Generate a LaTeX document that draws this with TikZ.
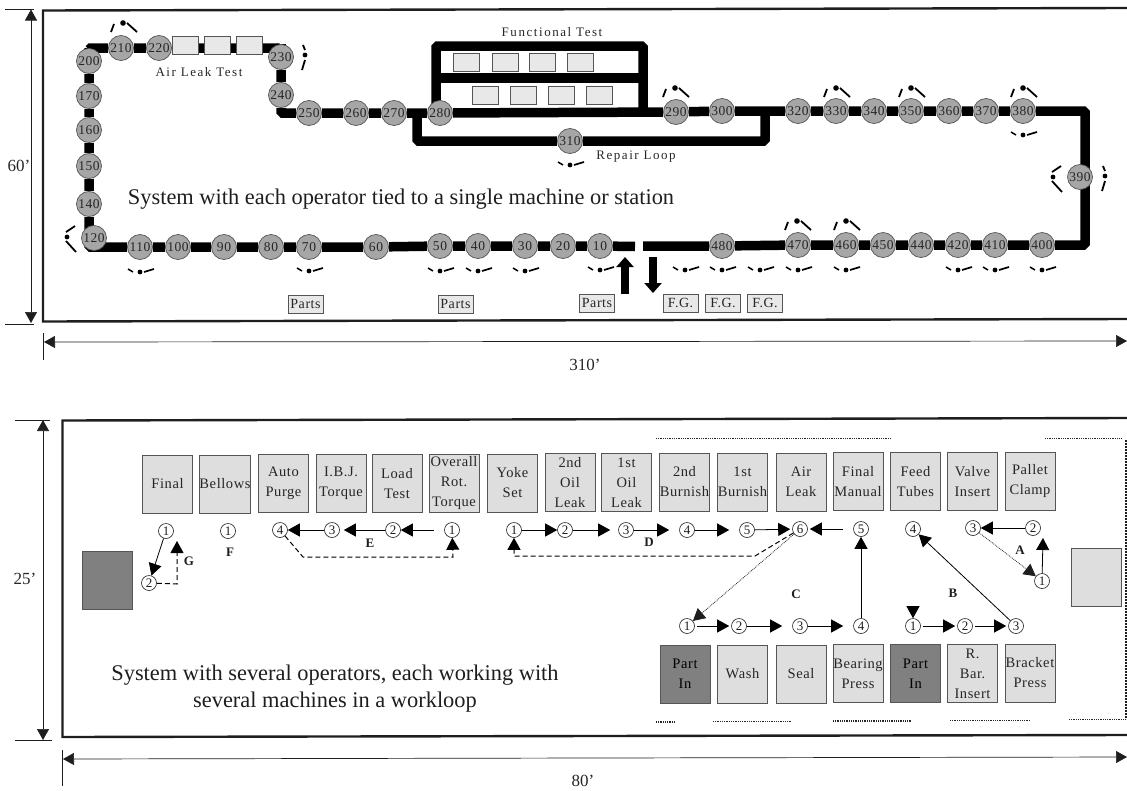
\documentclass[tikz,border=0pt]{standalone}
\usepackage{fontspec}
\usepackage{tikz}
\usetikzlibrary{arrows.meta,backgrounds}
\setmainfont{Liberation Serif}
\newfontfamily\boxfont[LetterSpace=4]{Liberation Serif}
\newfontfamily\wideboxfont[LetterSpace=12]{Liberation Serif}
\definecolor{Ink}{HTML}{1E1E1E}
\definecolor{TextGrey}{HTML}{262626}
\definecolor{Edge}{HTML}{555555}
\definecolor{Station}{HTML}{A6A6A6}
\definecolor{Machine}{HTML}{DEDEDE}
\definecolor{DarkMachine}{HTML}{808080}
\definecolor{PaleBox}{HTML}{E8E8E8}
\tikzset{
  frame/.style={line width=2.4pt,draw=Ink},
  belt/.style={line width=9.5pt,draw=black,rounded corners=1.5pt},
  station/.style={circle,draw=Edge,fill=Station,line width=0.7pt,minimum size=25pt,inner sep=0pt,text=TextGrey,font=\boxfont\fontsize{13.5}{14}\selectfont},
  slot/.style={rectangle,draw=Edge,fill=PaleBox,line width=0.8pt,minimum width=26pt,minimum height=18pt,inner sep=0pt},
  stock/.style={rectangle,draw=Edge,fill=PaleBox,line width=0.8pt,minimum width=35pt,minimum height=18pt,inner sep=0pt,text=TextGrey,font=\boxfont\fontsize{14}{14}\selectfont},
  machine/.style={rectangle,draw=Edge,fill=Machine,line width=0.9pt,minimum width=50pt,minimum height=58pt,inner sep=0pt,align=center,text=TextGrey,font=\boxfont\fontsize{14.5}{20}\selectfont},
  darkmachine/.style={machine,fill=DarkMachine,text=black},
  seq/.style={circle,draw=Ink,fill=white,line width=0.6pt,minimum size=15pt,inner sep=0pt,text=Ink,font=\fontsize{13}{14}\selectfont},
  caption/.style={inner sep=0pt,text=TextGrey,font=\wideboxfont\fontsize{13}{14}\selectfont},
  headline/.style={inner sep=0pt,align=center,text=Ink,font=\fontsize{22.4}{27}\selectfont},
  loopname/.style={inner sep=0pt,text=Ink,font=\fontsize{13}{14}\selectfont\bfseries},
  dimtext/.style={inner sep=0pt,text=TextGrey,font=\fontsize{17}{18}\selectfont},
  dim/.style={{Triangle[length=11pt,width=12pt]}-{Triangle[length=11pt,width=12pt]},line width=0.7pt,draw=Ink},
  tick/.style={line width=0.7pt,draw=Ink},
  bigarrow/.style={-{Triangle[length=10pt,width=17pt]},line width=8.5pt,draw=black},
  walk/.style={-{Triangle[length=12pt,width=13pt]},line width=0.8pt,draw=black},
  walkback/.style={walk,dashed,dash pattern=on 5pt off 3pt,line width=1pt},
  carry/.style={walk,densely dotted,draw=Ink},
  faint/.style={line width=0.8pt,densely dotted,draw=TextGrey},
  pics/opbelow/.style={code={
    \fill[black] (0,0) circle (2.4pt);
    \draw[line width=1.5pt] (-12,-3) -- (-7,0);
    \draw[line width=1.7pt] (4,0) -- (14,-3);
  }},
  pics/opabove/.style={code={
    \fill[black] (0,0) circle (2.8pt);
    \draw[line width=1.8pt] (-12,9) -- (-9,1);
    \draw[line width=1.8pt] (4,0) -- (14,9);
  }},
  pics/opleft/.style={code={
    \fill[black] (0,0) circle (2.4pt);
    \draw[line width=1.8pt] (8,-11) -- (-1,-5);
    \draw[line width=1.8pt] (-1,4) -- (9,15);
  }},
  pics/opright/.style={code={
    \fill[black] (0,0) circle (2.4pt);
    \draw[line width=1.8pt] (-2,-10) -- (0,-5);
    \draw[line width=1.8pt] (0,5) -- (-3,15);
  }}
}

\begin{document}
\begin{tikzpicture}[x=1pt,y=-1pt]
  \useasboundingbox (0,0) rectangle (1127,790);

  % upper system
  \draw[frame] (1127,8) -- (43,10.5) -- (43,321.5) -- (1127,319);

  \node[station] (s210) at (121,48) {210};
  \node[station] (s220) at (159,48) {220};
  \node[station] (s200) at (89,61) {200};
  \node[station] (s170) at (89,96) {170};
  \node[station] (s160) at (89,130) {160};
  \node[station] (s150) at (89,166) {150};
  \node[station] (s140) at (89,204) {140};
  \node[station] (s120) at (94,238) {120};
  \node[station] (s110) at (140,247) {110};
  \node[station] (s100) at (178,247) {100};
  \node[station] (s90) at (224,247) {90};
  \node[station] (s80) at (271,247) {80};
  \node[station] (s70) at (309,247) {70};
  \node[station] (s60) at (376,247) {60};
  \node[station] (s50) at (440,246) {50};
  \node[station] (s40) at (478,246) {40};
  \node[station] (s30) at (525,246) {30};
  \node[station] (s20) at (563,246) {20};
  \node[station] (s10) at (600,246) {10};
  \node[station] (s480) at (722,246) {480};
  \node[station] (s470) at (798,245) {470};
  \node[station] (s460) at (846,245) {460};
  \node[station] (s450) at (883,245) {450};
  \node[station] (s440) at (921,245) {440};
  \node[station] (s420) at (958,245) {420};
  \node[station] (s410) at (995,245) {410};
  \node[station] (s400) at (1042,245) {400};
  \node[station] (s390) at (1080,177) {390};
  \node[station] (s380) at (1023,111) {380};
  \node[station] (s370) at (986,111) {370};
  \node[station] (s360) at (949,111) {360};
  \node[station] (s350) at (911,111) {350};
  \node[station] (s340) at (874,111) {340};
  \node[station] (s330) at (836,111) {330};
  \node[station] (s320) at (798,111) {320};
  \node[station] (s300) at (722,111) {300};
  \node[station] (s290) at (676,112) {290};
  \node[station] (s310) at (570,141) {310};
  \node[station] (s280) at (440,113) {280};
  \node[station] (s270) at (394,113) {270};
  \node[station] (s260) at (356,113) {260};
  \node[station] (s250) at (309,113) {250};
  \node[station] (s240) at (281,95) {240};
  \node[station] (s230) at (281,57) {230};

  \node[slot] (leak1) at (185,45) {};
  \node[slot] (leak2) at (217.5,45) {};
  \node[slot] (leak3) at (249.5,45) {};
  \node[slot] (test1) at (466.5,62.5) {};
  \node[slot] (test2) at (505,62.5) {};
  \node[slot] (test3) at (542.5,62.5) {};
  \node[slot] (test4) at (580,62.5) {};
  \node[slot] (test5) at (485.5,95.5) {};
  \node[slot] (test6) at (523.5,95.5) {};
  \node[slot] (test7) at (561,95.5) {};
  \node[slot] (test8) at (599,95.5) {};

  \coordinate (beltIn) at (635,246.5);
  \coordinate (beltOut) at (643,246);
  \coordinate (rightLow) at (1085,245);
  \coordinate (rightHigh) at (1085,111);
  \coordinate (testBase) at (436,113);
  \coordinate (testMidL) at (436,78);
  \coordinate (testMidR) at (643,78);
  \coordinate (testTop) at (643,46);
  \coordinate (testEnd) at (643,112);
  \coordinate (repairL) at (417,113);
  \coordinate (repairR) at (765,111);

  \begin{scope}[on background layer]
    \draw[belt] (s230) |- (s220) -- (s210) -| (s200) -- (s170) -- (s160) -- (s150) -- (s140) |- (s110) -- (s100) -- (s90) -- (s80) -- (s70) -- (s60) -- (s50) -- (s40) -- (s30) -- (s20) -- (s10) -- (beltIn);
    \draw[belt] (beltOut) -- (s480) -- (s470) -- (s460) -- (s450) -- (s440) -- (s420) -- (s410) -- (s400) -- (rightLow) -- (rightHigh) -- (s380) -- (s370) -- (s360) -- (s350) -- (s340) -- (s330) -- (s320) -- (s300) -- (s290) -- (s280) -- (s270) -- (s260) -- (s250);
    \draw[belt] (s230) -- (s240) |- (s250);
    \draw[belt] (testBase) |- (testTop) -- (testEnd);
    \draw[belt] (testMidL) -- (testMidR);
    \draw[belt] (repairL) |- (s310) -| (repairR);
  \end{scope}

  \pic at (123,23) {opabove};
  \pic at (675,88) {opabove};
  \pic at (836,88) {opabove};
  \pic at (911,88) {opabove};
  \pic at (1023,88) {opabove};
  \pic at (797,221) {opabove};
  \pic at (846,221) {opabove};
  \pic at (140,272) {opbelow};
  \pic at (309,271) {opbelow};
  \pic at (440,271) {opbelow};
  \pic at (478,271) {opbelow};
  \pic at (525,271) {opbelow};
  \pic at (600,270) {opbelow};
  \pic at (685,270) {opbelow};
  \pic at (722,270) {opbelow};
  \pic at (760,270) {opbelow};
  \pic at (798,270) {opbelow};
  \pic at (846,270) {opbelow};
  \pic at (958,270) {opbelow};
  \pic at (995,270) {opbelow};
  \pic at (1042,270) {opbelow};
  \pic at (1023,135) {opbelow};
  \pic at (570,165) {opbelow};
  \pic at (67,237) {opleft};
  \pic at (1053,177) {opleft};
  \pic at (305,55) {opright};
  \pic at (1105,176) {opright};

  \node[caption] (leakName) at (199,72) {Air Leak Test};
  \node[caption] (testName) at (552,32) {Functional Test};
  \node[caption] (repairName) at (636,157) {Repair Loop};
  \node[headline] (topName) at (401,199) {System with each operator tied to a single machine or station};

  \node[stock] (parts1) at (305.5,304) {Parts};
  \node[stock] (parts2) at (455.5,304) {Parts};
  \node[stock] (parts3) at (597,303) {Parts};
  \node[stock] (goods1) at (680.5,303) {F.G.};
  \node[stock] (goods2) at (723,303) {F.G.};
  \node[stock] (goods3) at (765,303) {F.G.};

  \coordinate (inFrom) at (625,294);
  \coordinate (inTo) at (625,257);
  \coordinate (outFrom) at (653,257);
  \coordinate (outTo) at (653,293);
  \draw[bigarrow] (inFrom) -- (inTo);
  \draw[bigarrow] (outFrom) -- (outTo);

  \coordinate (h1) at (31,9.5);
  \coordinate (h2) at (31,323);
  \coordinate (w1) at (44,342);
  \coordinate (w2) at (1127,341);
  \draw[dim] (h1) -- (h2);
  \draw[dim] (w1) -- (w2);
  \draw[tick] (5,9.5) -- (34,9.5);
  \draw[tick] (5,324) -- (34,324);
  \draw[tick] (43,333) -- (43,360);
  \node[dimtext] (heightTop) at (19,166) {60'};
  \node[dimtext] (widthTop) at (585,365) {310'};

  % lower system
  \draw[frame] (1127,418) -- (62.5,420.5) -- (62.5,737) -- (1127,735);
  \draw[line width=2pt,densely dotted,draw=Ink] (1125.5,440) -- (1125.5,719);
  \draw[faint] (656,438) -- (891,438);
  \draw[faint] (1045,438) -- (1122,438);
  \draw[faint,line width=1.2pt] (656,722) -- (675,722);
  \draw[faint] (713,721.5) -- (791,721.5);
  \draw[faint,line width=1.2pt] (833,721) -- (912,721);
  \draw[faint] (950,720.5) -- (1030,720.5);
  \draw[faint] (1069,719.5) -- (1126,719.5);

  \node[machine] (final) at (167.5,484) {Final};
  \node[machine] (bellows) at (225,484) {Bellows};
  \node[machine] (purge) at (283.5,483.5) {Auto\\Purge};
  \node[machine] (ibj) at (341,483.5) {I.B.J.\\Torque};
  \node[machine] (load) at (397,483.5) {Load\\Test};
  \node[machine] (overall) at (454,483) {Overall\\Rot.\\Torque};
  \node[machine] (yoke) at (512.5,483) {Yoke\\Set};
  \node[machine] (oil2) at (570,482.5) {2nd\\Oil\\Leak};
  \node[machine] (oil1) at (626.5,482.5) {1st\\Oil\\Leak};
  \node[machine] (burn2) at (684.5,482) {2nd\\Burnish};
  \node[machine] (burn1) at (742.5,482) {1st\\Burnish};
  \node[machine] (air) at (801,482) {Air\\Leak};
  \node[machine] (manual) at (858,481.5) {Final\\Manual};
  \node[machine] (feed) at (915.5,481.5) {Feed\\Tubes};
  \node[machine] (valve) at (972.5,481.5) {Valve\\Insert};
  \node[machine] (pallet) at (1030,481.5) {Pallet\\Clamp};
  \node[darkmachine] (partA) at (685,674) {Part\\In};
  \node[machine] (wash) at (742.5,674) {Wash};
  \node[machine] (seal) at (801,674) {Seal};
  \node[machine] (bearing) at (858,673.5) {Bearing\\Press};
  \node[darkmachine] (partB) at (915.5,673.5) {Part\\In};
  \node[machine] (bar) at (972.5,673.5) {R.\\Bar.\\Insert};
  \node[machine] (bracket) at (1030,673) {Bracket\\Press};
  \node[darkmachine] (leftBox) at (107,580) {};
  \node[machine] (rightBox) at (1096,577) {};

  \node[seq] (g1) at (166,531) {1};
  \node[seq] (g2) at (149,583) {2};
  \node[seq] (f1) at (228,531) {1};
  \node[seq] (e4) at (280,530) {4};
  \node[seq] (e3) at (332,530) {3};
  \node[seq] (e2) at (393,530) {2};
  \node[seq] (e1) at (452,530) {1};
  \node[seq] (d1) at (514,530) {1};
  \node[seq] (d2) at (565,530) {2};
  \node[seq] (d3) at (626,530) {3};
  \node[seq] (d4) at (687,530) {4};
  \node[seq] (d5) at (747,530) {5};
  \node[seq] (d6) at (800,529) {6};
  \node[seq] (c5) at (861,529) {5};
  \node[seq] (b4) at (913,529) {4};
  \node[seq] (a3) at (973,528) {3};
  \node[seq] (a2) at (1033,528) {2};
  \node[seq] (a1) at (1042,581) {1};
  \node[seq] (c1) at (687,626) {1};
  \node[seq] (c2) at (739,626) {2};
  \node[seq] (c3) at (800,626) {3};
  \node[seq] (c4) at (861,626) {4};
  \node[seq] (b1) at (913,626) {1};
  \node[seq] (b2) at (965,626) {2};
  \node[seq] (b3) at (1016,626) {3};

  \node[loopname] (nameA) at (1020,550) {A};
  \node[loopname] (nameB) at (953,593) {B};
  \node[loopname] (nameC) at (796,594) {C};
  \node[loopname] (nameD) at (649,542) {D};
  \node[loopname] (nameE) at (370,543) {E};
  \node[loopname] (nameF) at (230,552) {F};
  \node[loopname] (nameG) at (189,561) {G};

  \draw[walk] (g1) -- (g2);
  \coordinate (gTurn) at (177,584);
  \coordinate (gEnd) at (177,541);
  \draw[walkback] (g2) -- (gTurn) -- (gEnd);
  \draw[walk] (e3) -- (e4);
  \draw[walk,shorten >=4pt] (e2) -- (e3);
  \draw[walk,shorten <=10pt] (e1) -- (e2);
  \coordinate (eTurn) at (303,557);
  \coordinate (eEnd) at (453,557);
  \draw[walkback] (e4) -- (eTurn) -- (eEnd) -- (e1);
  \draw[walk] (d1) -- (d2);
  \draw[walk,shorten >=8pt] (d2) -- (d3);
  \draw[walk,shorten >=10pt] (d3) -- (d4);
  \draw[walk,shorten >=10pt] (d4) -- (d5);
  \draw[walk,shorten >=2pt] (d5) -- (d6);
  \draw[walk,shorten <=10pt,shorten >=2pt] (c5) -- (d6);
  \coordinate (dTurn) at (755,556);
  \coordinate (dEnd) at (514,556);
  \draw[walkback] (d6) -- (dTurn) -- (dEnd) -- (d1);
  \draw[carry] (d6) -- (c1);
  \draw[walk,shorten <=2pt,shorten >=2pt] (c1) -- (c2);
  \draw[walk,shorten >=10pt] (c2) -- (c3);
  \draw[walk,shorten >=10pt] (c3) -- (c4);
  \draw[walk] (c4) -- (c5);
  \coordinate (partDrop) at (913,606);
  \draw[walk] (partDrop) -- (b1);
  \draw[walk,shorten <=2pt,shorten >=2pt] (b1) -- (b2);
  \draw[walk,shorten <=2pt,shorten >=2pt] (b2) -- (b3);
  \draw[walk] (b3) -- (b4);
  \coordinate (aTop) at (1043,538);
  \draw[walk] (a1) -- (aTop);
  \draw[walk] (a2) -- (a3);
  \draw[carry] (a3) -- (a1);

  \node[headline] (lowName) at (335,688.5) {System with several operators, each working with\\several machines in a workloop};

  \coordinate (h3) at (43,420);
  \coordinate (h4) at (43,740);
  \coordinate (w3) at (63,759);
  \coordinate (w4) at (1127,757);
  \draw[dim] (h3) -- (h4);
  \draw[dim] (w3) -- (w4);
  \draw[tick] (15,420) -- (50,420);
  \draw[tick] (15,740) -- (52,740);
  \draw[tick] (62.5,750) -- (62.5,786);
  \node[dimtext] (heightLow) at (25,579) {25'};
  \node[dimtext] (widthLow) at (583,781) {80'};
\end{tikzpicture}
\end{document}
